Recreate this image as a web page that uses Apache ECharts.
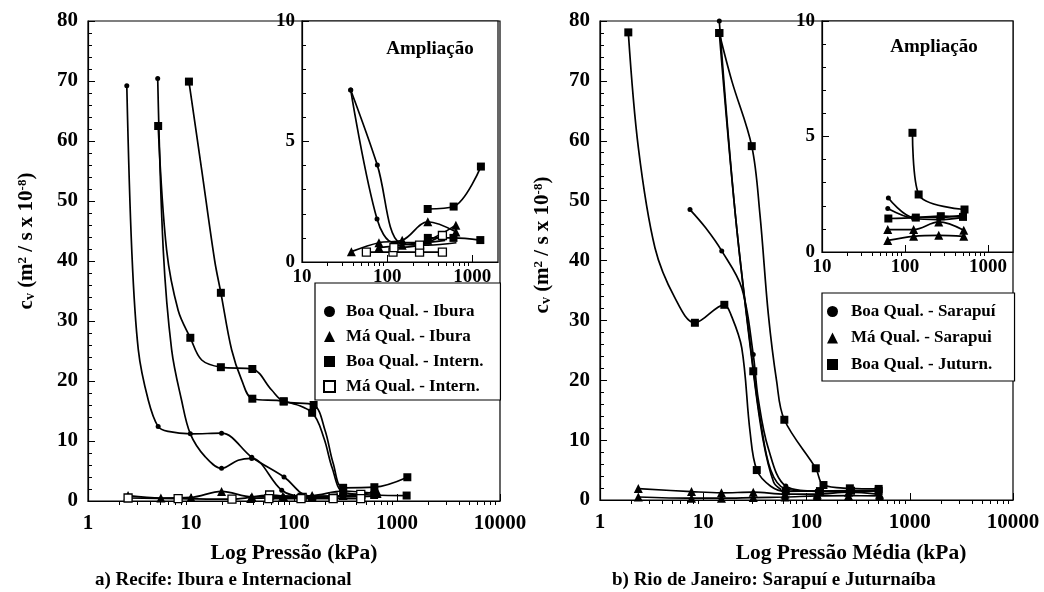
<!DOCTYPE html>
<html><head><meta charset="utf-8">
<script src="https://cdn.jsdelivr.net/npm/echarts@6/dist/echarts.min.js"></script>
<style>html,body{margin:0;padding:0;background:#fff}#c{width:1044px;height:592px}</style>
</head><body><div id="c"></div>
<script>
// Points are [pressure kPa, cv]; a third value 0 marks a point (no marker).
// ---------- Recife (panel a), main plot ----------
const ibBoaA = [[2.38,69.2],[2.66,41.8,0],[3.08,25.2,0],[3.85,16.8,0],[4.8,12.4],[6,11.6,0],[10,11.2,0],[19.8,11.3],[38.9,7.3],[80,4.0],[140,0.8,0],[300,0.7,0],[650,0.8,0]];
const ibBoaB = [[4.75,70.4],[5.38,41.8,0],[6.49,25.2,0],[8.1,16.8,0],[9.85,11.2],[13.7,7.4,0],[19.8,5.45],[28.7,6.8,0],[38.9,7.1],[76,1.8],[120,0.8,0],[240,0.8,0],[480,0.9,0]];
const ibMaA  = [[2.45,0.9],[5.1,0.5],[10,0.6],[19.8,1.6],[39,0.7],[78,0.8],[150,0.9],[300,1.67],[640,1.25]];
const ibMaB  = [[38,0.43],[80,0.6],[150,0.7],[300,0.9],[640,1.53]];
const inBoaA = [[4.8,62.5],[5.8,41.8,0],[7.5,31.8,0],[9.85,27.2],[12.7,23.5,0],[19.5,22.3],[39.4,22],[60.7,18.5,0],[79.4,16.6],[155,16],[200,11.8,0],[240,6.3,0],[300,2.2],[603,2.3],[1260,3.96]];
const inBoaB = [[9.55,69.9],[12.7,55.2,0],[17,40,0],[19.5,34.7],[24.8,25.2,0],[31,20.2,0],[39.4,17.05],[79.4,16.6],[150,14.7],[195,10.5,0],[235,5.5,0],[300,1.5],[600,1.0],[1240,0.91]];
const inMaA  = [[2.45,0.5],[7.5,0.4],[25,0.3],[58,1.0],[120,0.6],[240,0.7],[445,1.1]];
const inMaB  = [[57,0.41],[117,0.41],[240,0.41],[445,0.41]];
// Recife inset ("Ampliação")
const zIbBoaA = [[37.3,7.14],[76.6,4.02],[140,0.8,0],[300,0.7,0],[650,0.8,0]];
const zIbBoaB = [[37.3,7.14],[76,1.78],[120,0.8,0],[240,0.8,0],[480,0.9,0]];
const zIbMaA  = [[38,0.43],[80,0.8],[150,0.9],[300,1.67],[640,1.25]];
const zIbMaB  = [[80,0.6],[150,0.7],[300,0.9],[640,1.53]];
const zInBoaA = [[299,2.2],[603,2.3],[1260,3.96]];
const zInBoaB = [[300,1.0],[600,1.0],[1240,0.91]];
const zInMaA  = [[57,0.41],[117,0.41],[240,0.41],[445,0.41]];
const zInMaB  = [[120,0.6],[240,0.7],[445,1.1]];

// ---------- Rio de Janeiro (panel b), main plot ----------
const saBoaA = [[7.44,48.5],[10.5,45.5,0],[15.1,41.6],[23.6,35.4,0],[30.5,24.3],[34,17,0],[42.7,8.6,0],[63,2.34],[127,1.5],[255,1.5],[510,1.6]];
const saBoaB = [[14.3,80],[20.5,47.5,0],[31,21,0],[36,13,0],[45,5,0],[62,1.88],[127,1.45],[255,1.4],[510,1.5]];
const saMaA  = [[2.35,1.9],[7.7,1.4],[15,1.2],[30.5,1.3],[62,0.97],[127,0.97],[255,1.3],[510,0.94]];
const saMaB  = [[2.35,0.5],[7.7,0.3],[15,0.3],[30.5,0.4],[62,0.5],[127,0.68],[255,0.72],[510,0.68]];
const juBoaA = [[1.88,78.1],[2.35,58.9,0],[3.41,42.1,0],[5.3,33.8,0],[8.3,29.6],[16,32.6],[18.5,31,0],[23.6,25.4,0],[28.4,11.4,0],[33,5.0],[45,2.3,0],[63,1.45],[135,1.49],[270,1.55],[500,1.52]];
const juBoaB = [[14.3,78],[20.5,47.5,0],[30.5,21.5],[38,10,0],[48,3,0],[57,1.7,0]];
const juBoaC = [[14.3,78],[18.9,70,0],[29.5,59.1],[35.4,47.7,0],[42.7,31,0],[51.4,19.8,0],[61,13.4],[123,5.3],[146,2.5],[263,1.95],[500,1.85]];
// Rio inset
const zSaBoaA = [[63,2.34],[127,1.5],[255,1.5],[510,1.6]];
const zSaBoaB = [[62,1.88],[127,1.45],[255,1.4],[510,1.5]];
const zSaMaA  = [[62,0.97],[127,0.97],[255,1.3],[510,0.94]];
const zSaMaB  = [[62,0.5],[127,0.68],[255,0.72],[510,0.68]];
const zJuBoaA = [[63,1.45],[135,1.49],[270,1.55],[500,1.52]];
const zJuBoaC = [[123,5.16],[146,2.49],[521,1.84]];

// ---------- names / labels ----------
const namesA = ['Boa Qual. - Ibura','Má Qual. - Ibura','Boa Qual. - Intern.','Má Qual. - Intern.'];
const namesB = ['Boa Qual. - Sarapuí','Má Qual. - Sarapui','Boa Qual. - Juturn.'];
const minorMult = [2,3,4,5,6,7,8,9];
const decades = [1,10,100,1000];

const FONT = '"Liberation Serif","Times New Roman",serif';
const minorVals = [];
decades.forEach(d => minorMult.forEach(m => minorVals.push(d*m)));

function ser(name, pts, sym, size, xi, yi, hollow) {
  const data = pts.map(p => p[2] === 0 ? {value:[p[0],p[1]], symbol:'none'} : [p[0],p[1]]);
  return {
    type:'line', name, data, xAxisIndex:xi, yAxisIndex:yi,
    smooth:0.35, symbol:sym, symbolSize:size, showSymbol:true,
    lineStyle:{color:'#000', width:1.7},
    itemStyle: hollow ? {color:'#fff', borderColor:'#000', borderWidth:1.3} : {color:'#000', borderColor:'#000', borderWidth:0},
    emphasis:{disabled:true}, animation:false, z: hollow ? 3 : 2
  };
}
function logAxes(grid, min, max, fs, margin) {
  const lbl = {fontFamily:FONT, fontWeight:'bold', fontSize:fs, color:'#000', margin,
               showMaxLabel: Math.abs(Math.log10(max) % 1) < 1e-9,
               formatter: v => String(Math.round(v))};
  return [
    {type:'log', logBase:10, gridIndex:grid, min, max,
     axisLine:{show:true, onZero:false, lineStyle:{color:'#000', width:1.2}},
     axisTick:{show:true, inside:true, length:7, lineStyle:{color:'#000', width:1}},
     axisLabel:lbl, splitLine:{show:false}},
    {type:'log', logBase:10, gridIndex:grid, min, max,
     axisLine:{show:false}, axisLabel:{show:false}, splitLine:{show:false},
     axisTick:{show:true, inside:true, length:4, lineStyle:{color:'#000', width:1},
               customValues: minorVals.filter(v => v > min && v < max)}}
  ];
}
function valAxis(grid, max, interval, fs, margin) {
  return {type:'value', gridIndex:grid, min:0, max, interval,
    axisLine:{show:true, onZero:false, lineStyle:{color:'#000', width:1.2}},
    axisTick:{show:true, inside:true, length:7, lineStyle:{color:'#000'}},
    minorTick:{show:true, splitNumber:5, length:4, lineStyle:{color:'#000'}},
    axisLabel:{fontFamily:FONT, fontWeight:'bold', fontSize:fs, color:'#000', margin},
    splitLine:{show:false}};
}

const xAxes = [].concat(
  logAxes(0, 1, 10000, 21, 12),
  logAxes(1, 10, 2000, 19, 6),
  logAxes(2, 1, 10000, 21, 12),
  logAxes(3, 10, 2000, 19, 6)
);
const yAxes = [valAxis(0, 80, 10, 21, 10), valAxis(1, 10, 5, 19, 7), valAxis(2, 80, 10, 21, 10), valAxis(3, 10, 5, 19, 7)];

const series = [
  ser(namesA[0], ibBoaA, 'circle', 5, 0, 0),
  ser(namesA[0], ibBoaB, 'circle', 5, 0, 0),
  ser(namesA[1], ibMaA, 'triangle', 9, 0, 0),
  ser(namesA[1], ibMaB, 'triangle', 9, 0, 0),
  ser(namesA[2], inBoaA, 'rect', 8, 0, 0),
  ser(namesA[2], inBoaB, 'rect', 8, 0, 0),
  ser(namesA[3], inMaA, 'rect', 8, 0, 0, true),
  ser(namesA[3], inMaB, 'rect', 8, 0, 0, true),
  ser(namesA[0], zIbBoaA, 'circle', 5, 2, 1),
  ser(namesA[0], zIbBoaB, 'circle', 5, 2, 1),
  ser(namesA[1], zIbMaA, 'triangle', 9, 2, 1),
  ser(namesA[1], zIbMaB, 'triangle', 9, 2, 1),
  ser(namesA[2], zInBoaA, 'rect', 8, 2, 1),
  ser(namesA[2], zInBoaB, 'rect', 8, 2, 1),
  ser(namesA[3], zInMaA, 'rect', 8, 2, 1, true),
  ser(namesA[3], zInMaB, 'rect', 8, 2, 1, true),
  ser(namesB[0], saBoaA, 'circle', 5, 4, 2),
  ser(namesB[0], saBoaB, 'circle', 5, 4, 2),
  ser(namesB[1], saMaA, 'triangle', 9, 4, 2),
  ser(namesB[1], saMaB, 'triangle', 9, 4, 2),
  ser(namesB[2], juBoaA, 'rect', 8, 4, 2),
  ser(namesB[2], juBoaB, 'rect', 8, 4, 2),
  ser(namesB[2], juBoaC, 'rect', 8, 4, 2),
  ser(namesB[0], zSaBoaA, 'circle', 5, 6, 3),
  ser(namesB[0], zSaBoaB, 'circle', 5, 6, 3),
  ser(namesB[1], zSaMaA, 'triangle', 9, 6, 3),
  ser(namesB[1], zSaMaB, 'triangle', 9, 6, 3),
  ser(namesB[2], zJuBoaA, 'rect', 8, 6, 3),
  ser(namesB[2], zJuBoaC, 'rect', 8, 6, 3)
];

const legendText = {fontFamily:FONT, fontWeight:'bold', fontSize:17, color:'#000', lineHeight:16};
const yTitleRich = {
  a:{fontSize:21, fontWeight:'bold', fontFamily:FONT, fill:'#000'},
  b:{fontSize:14, fontWeight:'bold', fontFamily:FONT, fill:'#000', verticalAlign:'bottom'},
  c:{fontSize:13, fontWeight:'bold', fontFamily:FONT, fill:'#000', verticalAlign:'top'}
};
const yTitle = '{a|c}{b|v}{a| (m}{c|2}{a| / s x 10}{c|-8}{a|)}';
function txt(x, y, text, size, align) {
  return {type:'text', x, y, z:20, style:{text, font:'bold '+size+'px '+FONT, fill:'#000', align, verticalAlign:'middle'}};
}

const option = {
  backgroundColor:'#fff',
  animation:false,
  grid:[
    {left:88, top:21, width:412, height:480, show:true, borderColor:'#000', borderWidth:1.2, backgroundColor:'transparent'},
    {left:302, top:21, width:196, height:241, show:true, borderColor:'#000', borderWidth:1.2, backgroundColor:'#fff'},
    {left:600, top:21, width:413, height:479, show:true, borderColor:'#000', borderWidth:1.2, backgroundColor:'transparent'},
    {left:822, top:21, width:191, height:231, show:true, borderColor:'#000', borderWidth:1.2, backgroundColor:'#fff'}
  ],
  xAxis: xAxes,
  yAxis: yAxes,
  legend:[
    {orient:'vertical', left:315, top:283, padding:[20,17,5,8], itemGap:8, itemWidth:11, itemHeight:11,
     backgroundColor:'#fff', borderColor:'#000', borderWidth:1.2, selectedMode:false, z:10,
     textStyle:Object.assign({padding:[0,0,0,6]}, legendText),
     data:[{name:namesA[0], icon:'circle'},{name:namesA[1], icon:'triangle'},{name:namesA[2], icon:'rect'},{name:namesA[3], icon:'rect'}]},
    {orient:'vertical', left:822, top:293, padding:[10,19,8,5], itemGap:9.5, itemWidth:11, itemHeight:11,
     backgroundColor:'#fff', borderColor:'#000', borderWidth:1.2, selectedMode:false, z:10,
     textStyle:Object.assign({padding:[0,0,0,8]}, legendText),
     data:[{name:namesB[0], icon:'circle'},{name:namesB[1], icon:'triangle'},{name:namesB[2], icon:'rect'}]}
  ],
  graphic:[
    txt(430, 49, 'Ampliação', 19, 'center'),
    txt(934, 47, 'Ampliação', 19, 'center'),
    txt(294, 553, 'Log Pressão (kPa)', 21.5, 'center'),
    txt(851, 553, 'Log Pressão Média (kPa)', 21.5, 'center'),
    txt(95, 580, 'a) Recife: Ibura e Internacional', 19, 'left'),
    txt(612, 580, 'b) Rio de Janeiro: Sarapuí e Juturnaíba', 19, 'left'),
    {type:'text', x:27, y:241, rotation:Math.PI/2, z:20,
     style:{text:yTitle, rich:yTitleRich, fill:'#000', font:'bold 21px '+FONT, align:'center', verticalAlign:'middle'}},
    {type:'text', x:543, y:245, rotation:Math.PI/2, z:20,
     style:{text:yTitle, rich:yTitleRich, fill:'#000', font:'bold 21px '+FONT, align:'center', verticalAlign:'middle'}}
  ],
  series
};
const chart = echarts.init(document.getElementById('c'), null, {renderer:'canvas'});
chart.setOption(option);
</script>
</body></html>
